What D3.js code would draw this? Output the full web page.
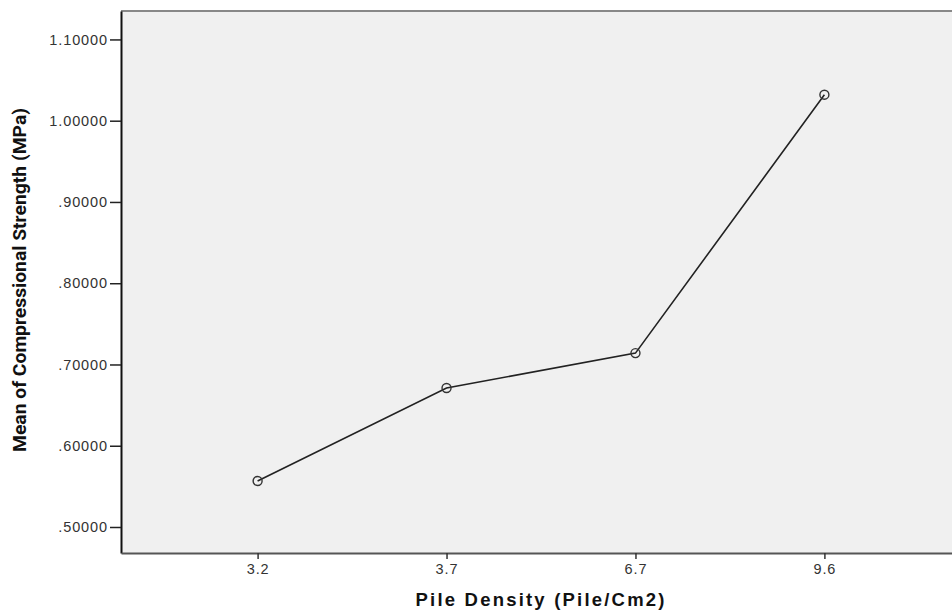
<!DOCTYPE html>
<html>
<head>
<meta charset="utf-8">
<script src="https://cdn.jsdelivr.net/npm/d3@7"></script>
<style>
  body { margin: 0; background: #fff; }
</style>
</head>
<body>
<div id="fig"></div>
<script>
// data
var densities = ["3.2", "3.7", "6.7", "9.6"];
var meanStrength = [0.5566, 0.6710, 0.7140, 1.0320];
var yTicks = [0.5, 0.6, 0.7, 0.8, 0.9, 1.0, 1.1];

var W = 952, H = 613;
var margin = {top: 11, right: -9, bottom: 60, left: 121},
    width = W - margin.left - margin.right,
    height = H - margin.top - margin.bottom;

var svg = d3.select("#fig").append("svg")
    .attr("width", W)
    .attr("height", H)
  .append("g")
    .attr("transform", "translate(" + margin.left + "," + margin.top + ")");

// scales
var x = d3.scalePoint()
    .domain(densities)
    .range([0, width])
    .padding(0.723);

var y = d3.scaleLinear()
    .domain([0.468, 1.135])
    .range([height, 0]);

// plot background
svg.append("rect")
    .attr("width", width)
    .attr("height", height)
    .attr("fill", "#f0f0f0");

// frame: top gray line
svg.append("line")
    .attr("x1", 0).attr("x2", width)
    .attr("y1", 0).attr("y2", 0)
    .attr("stroke", "#888").attr("stroke-width", 2);

function styleTicks(g) {
  g.selectAll(".tick text")
    .attr("font-family", "Arial, 'Liberation Sans', sans-serif")
    .attr("font-size", 14.5)
    .attr("letter-spacing", "0.9px")
    .attr("fill", "#333");
}

// y axis
var yAxis = svg.append("g")
    .call(d3.axisLeft(y).tickValues(yTicks).tickSize(11).tickSizeOuter(0).tickPadding(2)
      .tickFormat(function(d) { return d3.format(".5f")(d).replace(/^0/, ""); }))
    .call(styleTicks);
yAxis.select(".domain").attr("stroke", "#111").attr("stroke-width", 2);
yAxis.selectAll(".tick line").attr("stroke", "#222").attr("stroke-width", 1.5);

// x axis
var xAxis = svg.append("g")
    .attr("transform", "translate(0," + height + ")")
    .call(d3.axisBottom(x).tickSize(6).tickSizeOuter(0).tickPadding(5))
    .call(styleTicks);
xAxis.select(".domain").attr("stroke", "#555").attr("stroke-width", 2);
xAxis.selectAll(".tick line").attr("stroke", "#333").attr("stroke-width", 1.5);

// line
var pts = densities.map(function(d, i) { return {k: d, v: meanStrength[i]}; });
svg.append("path")
    .datum(pts)
    .attr("fill", "none")
    .attr("stroke", "#222")
    .attr("stroke-width", 1.6)
    .attr("d", d3.line().x(function(d) { return x(d.k); }).y(function(d) { return y(d.v); }));

svg.selectAll("circle.pt")
    .data(pts)
    .enter().append("circle")
    .attr("class", "pt")
    .attr("cx", function(d) { return x(d.k); })
    .attr("cy", function(d) { return y(d.v); })
    .attr("r", 4.5)
    .attr("fill", "none")
    .attr("stroke", "#333")
    .attr("stroke-width", 1.4);

// axis titles
svg.append("text")
    .attr("x", 540 - margin.left)
    .attr("y", 606 - margin.top)
    .attr("text-anchor", "middle")
    .attr("textLength", 249)
    .attr("lengthAdjust", "spacing")
    .style("font-family", "Arial, 'Liberation Sans', sans-serif")
    .style("font-weight", "bold")
    .style("font-size", "18.5px")
    .attr("fill", "#111")
    .text("Pile Density (Pile/Cm2)");

svg.append("text")
    .attr("transform", "translate(" + (26 - margin.left) + "," + (280 - margin.top) + ") rotate(-90)")
    .attr("text-anchor", "middle")
    .attr("textLength", 344)
    .attr("lengthAdjust", "spacingAndGlyphs")
    .style("font-family", "'Liberation Sans Narrow', 'Roboto', sans-serif")
    .style("font-weight", "bold")
    .style("font-size", "17.5px")
    .attr("fill", "#111")
    .text("Mean of Compressional Strength (MPa)");
</script>
</body>
</html>
